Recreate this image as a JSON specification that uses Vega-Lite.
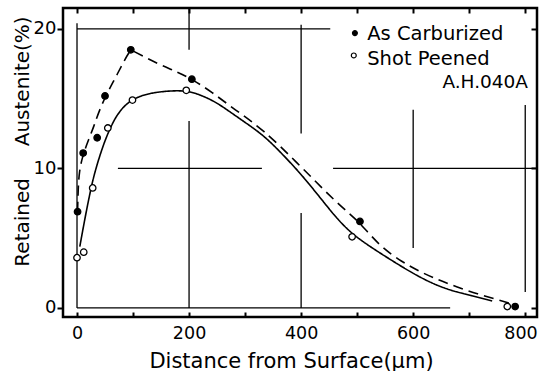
{
  "$schema": "https://vega.github.io/schema/vega-lite/v6.json",
  "width": 474,
  "height": 309,
  "autosize": {"type": "none"},
  "padding": {"left": 63, "top": 8, "right": 2, "bottom": 54},
  "background": "white",
  "config": {
    "font": "DejaVu Sans",
    "view": {"stroke": "black", "strokeWidth": 2.5},
    "axis": {"grid": false, "domain": false, "tickColor": "black", "tickWidth": 2, "labelColor": "black", "titleColor": "black", "labelFont": "DejaVu Sans", "titleFont": "DejaVu Sans", "titleFontWeight": "normal"}
  },
  "datasets": {
    "grid": [
      {"x1": 0, "x2": 452, "y1": 20, "y2": 20},
      {"x1": 73, "x2": 330, "y1": 10, "y2": 10},
      {"x1": 457, "x2": 821, "y1": 10, "y2": 10},
      {"x1": 0, "x2": 666, "y1": 0, "y2": 0},
      {"x1": 0, "x2": 0, "y1": 0, "y2": 20.4},
      {"x1": 200, "x2": 200, "y1": 18.5, "y2": 21.5},
      {"x1": 200, "x2": 200, "y1": 0, "y2": 13.4},
      {"x1": 400, "x2": 400, "y1": 12.5, "y2": 20.3},
      {"x1": 400, "x2": 400, "y1": 0, "y2": 6.8},
      {"x1": 600, "x2": 600, "y1": 4.3, "y2": 14.2},
      {"x1": 800, "x2": 800, "y1": 1.15, "y2": 14.55}
    ],
    "curves": [
      {"series": "As Carburized", "x": 1, "y": 6.9},
      {"series": "As Carburized", "x": 2, "y": 8.5},
      {"series": "As Carburized", "x": 4, "y": 9.8},
      {"series": "As Carburized", "x": 10, "y": 10.9},
      {"series": "As Carburized", "x": 20, "y": 12.0},
      {"series": "As Carburized", "x": 30, "y": 13.0},
      {"series": "As Carburized", "x": 40, "y": 14.2},
      {"series": "As Carburized", "x": 55, "y": 15.5},
      {"series": "As Carburized", "x": 70, "y": 16.6},
      {"series": "As Carburized", "x": 85, "y": 17.8},
      {"series": "As Carburized", "x": 96, "y": 18.5},
      {"series": "As Carburized", "x": 96, "y": 18.5},
      {"series": "As Carburized", "x": 120, "y": 18.0},
      {"series": "As Carburized", "x": 150, "y": 17.4},
      {"series": "As Carburized", "x": 180, "y": 16.9},
      {"series": "As Carburized", "x": 205, "y": 16.4},
      {"series": "As Carburized", "x": 240, "y": 15.5},
      {"series": "As Carburized", "x": 282, "y": 14.2},
      {"series": "As Carburized", "x": 332, "y": 12.8},
      {"series": "As Carburized", "x": 393, "y": 10.4},
      {"series": "As Carburized", "x": 452, "y": 8.0},
      {"series": "As Carburized", "x": 482, "y": 6.9},
      {"series": "As Carburized", "x": 505, "y": 6.1},
      {"series": "As Carburized", "x": 541, "y": 4.4},
      {"series": "As Carburized", "x": 580, "y": 3.3},
      {"series": "As Carburized", "x": 612, "y": 2.6},
      {"series": "As Carburized", "x": 645, "y": 2.0},
      {"series": "As Carburized", "x": 678, "y": 1.5},
      {"series": "As Carburized", "x": 715, "y": 1.0},
      {"series": "As Carburized", "x": 750, "y": 0.6},
      {"series": "As Carburized", "x": 775, "y": 0.3},
      {"series": "Shot Peened", "x": 5, "y": 4.4},
      {"series": "Shot Peened", "x": 14, "y": 6.4},
      {"series": "Shot Peened", "x": 23, "y": 8.2},
      {"series": "Shot Peened", "x": 30, "y": 9.5},
      {"series": "Shot Peened", "x": 45, "y": 11.5},
      {"series": "Shot Peened", "x": 60, "y": 13.0},
      {"series": "Shot Peened", "x": 75, "y": 14.1},
      {"series": "Shot Peened", "x": 98, "y": 15.0},
      {"series": "Shot Peened", "x": 130, "y": 15.4},
      {"series": "Shot Peened", "x": 160, "y": 15.55},
      {"series": "Shot Peened", "x": 196, "y": 15.6},
      {"series": "Shot Peened", "x": 225, "y": 15.2},
      {"series": "Shot Peened", "x": 250, "y": 14.7},
      {"series": "Shot Peened", "x": 275, "y": 14.0},
      {"series": "Shot Peened", "x": 300, "y": 13.3},
      {"series": "Shot Peened", "x": 332, "y": 12.4},
      {"series": "Shot Peened", "x": 360, "y": 11.3},
      {"series": "Shot Peened", "x": 393, "y": 9.9},
      {"series": "Shot Peened", "x": 416, "y": 8.8},
      {"series": "Shot Peened", "x": 440, "y": 7.6},
      {"series": "Shot Peened", "x": 464, "y": 6.4},
      {"series": "Shot Peened", "x": 491, "y": 5.3},
      {"series": "Shot Peened", "x": 523, "y": 4.4},
      {"series": "Shot Peened", "x": 550, "y": 3.7},
      {"series": "Shot Peened", "x": 582, "y": 2.9},
      {"series": "Shot Peened", "x": 612, "y": 2.2},
      {"series": "Shot Peened", "x": 643, "y": 1.6},
      {"series": "Shot Peened", "x": 672, "y": 1.2},
      {"series": "Shot Peened", "x": 702, "y": 0.9},
      {"series": "Shot Peened", "x": 741, "y": 0.5}
    ],
    "points": [
      {"series": "As Carburized", "x": 1, "y": 6.9},
      {"series": "As Carburized", "x": 11, "y": 11.1},
      {"series": "As Carburized", "x": 36, "y": 12.2},
      {"series": "As Carburized", "x": 50, "y": 15.2},
      {"series": "As Carburized", "x": 96, "y": 18.5},
      {"series": "As Carburized", "x": 205, "y": 16.4},
      {"series": "As Carburized", "x": 505, "y": 6.2},
      {"series": "As Carburized", "x": 782, "y": 0.1},
      {"series": "Shot Peened", "x": 0, "y": 3.6},
      {"series": "Shot Peened", "x": 12, "y": 4.0},
      {"series": "Shot Peened", "x": 28, "y": 8.6},
      {"series": "Shot Peened", "x": 55, "y": 12.9},
      {"series": "Shot Peened", "x": 99, "y": 14.9},
      {"series": "Shot Peened", "x": 195, "y": 15.6},
      {"series": "Shot Peened", "x": 491, "y": 5.1},
      {"series": "Shot Peened", "x": 768, "y": 0.1}
    ],
    "keys": [
      {"series": "As Carburized", "x": 496, "y": 19.7},
      {"series": "Shot Peened", "x": 494, "y": 18.1}
    ],
    "keyLabels": [
      {"x": 518, "y": 19.2, "label": "As Carburized"},
      {"x": 518, "y": 17.4, "label": "Shot Peened"}
    ],
    "tag": [
      {"x": 805, "y": 15.8, "label": "A.H.040A"}
    ]
  },
  "layer": [
    {
      "data": {"name": "grid"},
      "mark": {"type": "rule", "color": "black", "strokeWidth": 1.3},
      "encoding": {
        "x": {
          "field": "x1", "type": "quantitative",
          "scale": {"domain": [-25, 821], "nice": false, "zero": false},
          "axis": {
            "orient": "bottom",
            "values": [0, 100, 200, 300, 400, 500, 600, 700, 800],
            "tickSize": -5,
            "labelExpr": "datum.value % 200 === 0 ? datum.label : ''",
            "labelFontSize": 17.5,
            "labelPadding": 12,
            "labelBaseline": "top",
            "labelFlush": 13,
            "labelFlushOffset": 12,
            "title": "Distance from Surface(μm)",
            "titleFontSize": 21,
            "titleX": 228,
            "titleY": 50,
            "titleAlign": "center",
            "titleBaseline": "alphabetic"
          }
        },
        "x2": {"field": "x2"},
        "y": {
          "field": "y1", "type": "quantitative",
          "scale": {"domain": [-0.65, 21.5], "nice": false, "zero": false},
          "axis": {
            "orient": "left",
            "values": [0, 10, 20],
            "tickSize": 6,
            "labelFontSize": 18,
            "labelPadding": 1,
            "title": "Retained\u00a0\u00a0\u00a0\u00a0\u00a0Austenite(%)",
            "titleFontSize": 20,
            "titleX": -35,
            "titleY": 133,
            "titleAlign": "center",
            "titleBaseline": "alphabetic",
            "titleAngle": -90
          }
        },
        "y2": {"field": "y2"}
      }
    },
    {
      "data": {"name": "curves"},
      "mark": {"type": "line", "interpolate": "basis", "color": "black", "strokeWidth": 1.6},
      "encoding": {
        "x": {"field": "x", "type": "quantitative", "axis": null},
        "y": {"field": "y", "type": "quantitative", "axis": null},
        "strokeDash": {
          "field": "series", "type": "nominal",
          "scale": {"domain": ["As Carburized", "Shot Peened"], "range": [[10, 6], [1, 0]]},
          "legend": null
        }
      }
    },
    {
      "data": {"name": "points"},
      "mark": {"type": "circle", "stroke": "black", "strokeWidth": 1.3, "opacity": 1, "size": 42},
      "encoding": {
        "x": {"field": "x", "type": "quantitative", "axis": null},
        "y": {"field": "y", "type": "quantitative", "axis": null},
        "fill": {
          "field": "series", "type": "nominal",
          "scale": {"domain": ["As Carburized", "Shot Peened"], "range": ["black", "white"]},
          "legend": null
        }
      }
    },
    {
      "data": {"name": "keys"},
      "mark": {"type": "circle", "stroke": "black", "strokeWidth": 1.2, "opacity": 1, "size": 24},
      "encoding": {
        "x": {"field": "x", "type": "quantitative", "axis": null},
        "y": {"field": "y", "type": "quantitative", "axis": null},
        "fill": {"field": "series", "type": "nominal", "legend": null}
      }
    },
    {
      "data": {"name": "keyLabels"},
      "mark": {"type": "text", "align": "left", "baseline": "alphabetic", "fontSize": 19.5, "color": "black"},
      "encoding": {
        "x": {"field": "x", "type": "quantitative", "axis": null},
        "y": {"field": "y", "type": "quantitative", "axis": null},
        "text": {"field": "label"}
      }
    },
    {
      "data": {"name": "tag"},
      "mark": {"type": "text", "align": "right", "baseline": "alphabetic", "fontSize": 18.5, "color": "black"},
      "encoding": {
        "x": {
          "field": "x", "type": "quantitative",
          "axis": {"orient": "top", "values": [0, 100, 200, 300, 400, 500, 600, 700, 800], "tickSize": -5, "labels": false, "title": null}
        },
        "y": {
          "field": "y", "type": "quantitative",
          "axis": {"orient": "right", "values": [0, 10, 20], "tickSize": -6, "labels": false, "title": null}
        },
        "text": {"field": "label"}
      }
    }
  ],
  "resolve": {"axis": {"x": "independent", "y": "independent"}}
}
